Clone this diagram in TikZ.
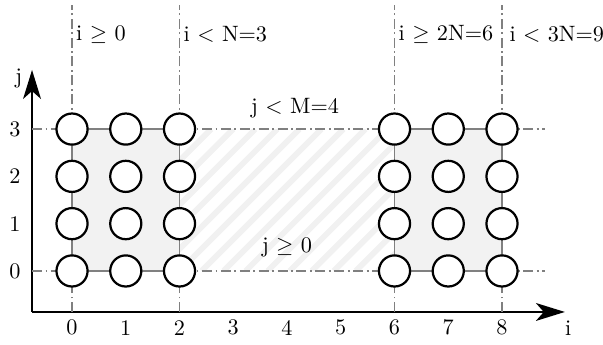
\documentclass[tikz,border=0pt]{standalone}
\usetikzlibrary{arrows.meta, positioning}

\begin{document}
\begin{tikzpicture}[x=0.85cm, y=0.748cm, thick,
    guide/.style={gray, line width=0.6pt, dash pattern=on 4.5pt off 1.6pt on 0.8pt off 1.6pt},
    site/.style={circle, draw=black, fill=white, line width=1pt, minimum size=14pt, inner sep=0pt},
    block/.style={draw=gray, fill=gray!10, line width=0.8pt},
    axis/.style={line width=1.1pt, -{Stealth[length=13pt, width=8pt, inset=3.5pt]}}]
    \useasboundingbox (-1.34,-1.564) rectangle (9.879,5.729);

    % Hatched gap
    \begin{scope}
        \clip (2,0) rectangle (6,3);
        \foreach \s in {-6,...,9} {
            \draw[gray!11, line width=2.6pt] (2+0.41*\s, 0) -- ++(2.64, 3);
        }
    \end{scope}

    % Blocks
    \draw[block] (0,0) rectangle (2,3);
    \draw[block] (6,0) rectangle (8,3);

    % Axes
    \coordinate (O) at (-0.744,-0.867);
    \coordinate (xend) at (9.17,-0.867);
    \coordinate (yend) at (-0.744,4.25);
    \draw[axis] (O) -- (xend);
    \draw[axis] (O) -- (yend);
    \node (lab-i) at (9.23,-1.2) {i};
    \node (lab-j) at (-0.99,4.08) {j};

    % Guidelines
    \foreach \x in {0,2,6,8} {
        \draw[guide] (\x,-0.867) -- (\x,5.62);
    }
    \foreach \y in {0,3} {
        \draw[guide] (-0.744,\y) -- (8.8,\y);
    }

    % Bounds
    \node[right, inner sep=1.5pt] (lo-i) at (0,5) {i $\geq$ 0};
    \node[right, inner sep=1.5pt] (hi-i) at (2,5) {i $<$ N=3};
    \node[right, inner sep=1.5pt] (lo-ii) at (6,5) {i $\geq$ 2N=6};
    \node[right, inner sep=3pt] (hi-ii) at (8,5) {i $<$ 3N=9};
    \node (hi-j) at (4.15,3.45) {j $<$ M=4};
    \node (lo-j) at (4.0,0.5) {j $\geq$ 0};

    % Ticks
    \foreach \x in {0,...,8} {
        \node (tx-\x) at (\x,-1.2) {\x};
    }
    \foreach \y in {0,...,3} {
        \node (ty-\y) at (-1.06,\y) {\y};
    }

    % Sites
    \foreach \x in {0,1,2,6,7,8} {
        \foreach \y in {0,...,3} {
            \node[site] (c-\x-\y) at (\x,\y) {};
        }
    }
\end{tikzpicture}
\end{document}
